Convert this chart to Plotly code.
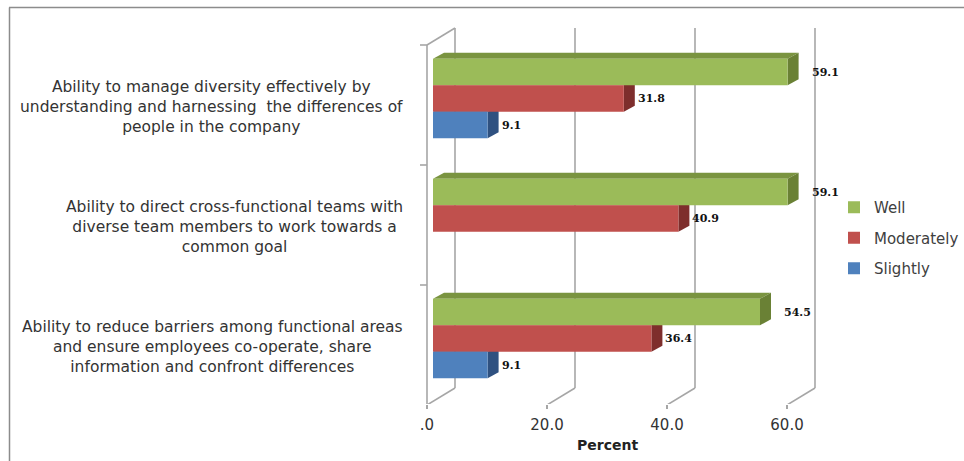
import plotly.graph_objects as go

# ---- data -------------------------------------------------------------
categories = [
    "Ability to manage diversity effectively by<br>understanding and harnessing  the differences of<br>people in the company",
    "Ability to direct cross-functional teams with<br>diverse team members to work towards a<br>common goal",
    "Ability to reduce barriers among functional areas<br>and ensure employees co-operate, share<br>information and confront differences",
]
series_names = ["Well", "Moderately", "Slightly"]
well = [59.1, 59.1, 54.5]
moderately = [31.8, 40.9, 36.4]
slightly = [9.1, None, 9.1]
x_ticks = [0, 20, 40, 60]
x_tick_labels = [".0", "20.0", "40.0", "60.0"]
x_title = "Percent"

series_values = [well, moderately, slightly]

# ---- styling ----------------------------------------------------------
front_colors = ["#9BBB59", "#C0504D", "#4F81BD"]
top_colors = ["#7A9440", "#963C3A", "#3B6291"]
side_colors = ["#6A8135", "#7E2E2C", "#2F5180"]
label_shift_px = [22, 12, 12]
grid_color = "#A6A6A6"
text_color = "#333333"
font_family = "DejaVu Sans"

W, H = 964, 461
ML, MR, MT, MB = 419, 114, 20, 57
PW, PH = W - ML - MR, H - MT - MB

XU = 6.0     # pixels per percent point
YU = 120.0   # pixels per category band
BW = 26.5 / YU  # bar thickness in category units

# bar plane: 0 % at pixel 433, first category centre at pixel 98.5
x_range = [-(433 - ML) / XU, -(433 - ML) / XU + PW / XU]
y_range = [(H - MB - 98.5) / YU, (MT - 98.5) / YU]  # reversed

def dx(px):
    return px / XU

def dy(px):
    return px / YU

# projection offsets (pixels) relative to the bar plane
FRONT = (-6.0, 6.5)
DEPTH = (28.0, -17.0)
FACE = (11.0, -6.0)

def front_pt(t, c):
    return t + dx(FRONT[0]), c + dy(FRONT[1])

def back_pt(t, c):
    return t + dx(FRONT[0] + DEPTH[0]), c + dy(FRONT[1] + DEPTH[1])

def paper_x(px):
    return (px - ML) / PW

def paper_y(py):
    return 1 - (py - MT) / PH

shapes = []

def line(p0, p1, ref="data"):
    d = dict(type="line", x0=p0[0], y0=p0[1], x1=p1[0], y1=p1[1],
             line=dict(color=grid_color, width=1.6), layer="below")
    if ref == "data":
        d.update(xref="x", yref="y")
    else:
        d.update(xref="paper", yref="paper", line=dict(color="#8C8C8C", width=1.5))
    shapes.append(d)

c_top, c_bot = -0.5, len(categories) - 0.5

# back wall gridlines and floor diagonals
for t in x_ticks:
    line(back_pt(t, c_top), back_pt(t, c_bot))
    line(front_pt(t, c_bot), back_pt(t, c_bot))
line(front_pt(0, c_top), back_pt(0, c_top))

# front vertical axis with category tick marks
line(front_pt(0, c_top), front_pt(0, c_bot))
for k in range(len(categories) + 1):
    c = c_top + k
    x0, y0 = front_pt(0, c)
    line((x0 - dx(7), y0), (x0, y0))

# front floor line
fx0, fy0 = front_pt(0, c_bot)
fx1, _ = front_pt(x_ticks[-1], c_bot)
line((fx0 - dx(7), fy0), (fx1, fy0))

# chart frame
line((paper_x(9), paper_y(7.5)), (paper_x(W + 5), paper_y(7.5)), ref="paper")
line((paper_x(9.5), paper_y(7.5)), (paper_x(9.5), paper_y(H + 5)), ref="paper")

# ---- bars with 3D faces ------------------------------------------------
fig = go.Figure()
annotations = []
ypos = list(range(len(categories)))

for i, (name, vals) in enumerate(zip(series_names, series_values)):
    off = -1.5 * BW + i * BW
    fig.add_trace(go.Bar(
        orientation="h", x=vals, y=ypos, name=name,
        width=BW, offset=off,
        marker=dict(color=front_colors[i], line=dict(width=0)),
        legendgroup=name, hoverinfo="x+name",
    ))
    for j, v in enumerate(vals):
        if v is None:
            continue
        yt = j + off
        yb = yt + BW
        fx, fy = dx(FACE[0]), dy(FACE[1])
        shapes.append(dict(
            type="path", xref="x", yref="y", layer="below",
            path=f"M 0,{yt} L {v},{yt} L {v + fx},{yt + fy} L {fx},{yt + fy} Z",
            fillcolor=top_colors[i], line=dict(width=0)))
        shapes.append(dict(
            type="path", xref="x", yref="y", layer="below",
            path=f"M {v},{yt} L {v + fx},{yt + fy} L {v + fx},{yb + fy} L {v},{yb} Z",
            fillcolor=side_colors[i], line=dict(width=0)))
        annotations.append(dict(
            x=v, y=(yt + yb) / 2, xref="x", yref="y",
            text=f"{v:.1f}", showarrow=False, xanchor="left", yanchor="middle",
            xshift=label_shift_px[i],
            font=dict(family="DejaVu Serif", size=11, color="#111111", weight="bold")))

# category labels
for j, text in enumerate(categories):
    _, cy = front_pt(0, j)
    annotations.append(dict(
        x=paper_x(405), y=cy, xref="paper", yref="y", text=text, yshift=-2,
        showarrow=False, xanchor="right", yanchor="middle", align="center",
        font=dict(family=font_family, size=15.5, color=text_color)))

# axis title
tx, _ = front_pt((x_ticks[0] + x_ticks[-1]) / 2, c_bot)
annotations.append(dict(
    x=tx, y=0, xref="x", yref="paper", yshift=-41, text=f"<b>{x_title}</b>",
    showarrow=False, xanchor="center", yanchor="middle",
    font=dict(family=font_family, size=14, color="#222222")))

fig.update_layout(
    width=W, height=H, autosize=False,
    margin=dict(l=ML, r=MR, t=MT, b=MB, pad=0, autoexpand=False),
    paper_bgcolor="white", plot_bgcolor="white",
    barmode="overlay",
    showlegend=True,
    legend=dict(
        x=paper_x(834), y=paper_y(191), xanchor="left", yanchor="top",
        traceorder="grouped", tracegroupgap=8,
        font=dict(family=font_family, size=15, color="#404040"),
        bgcolor="rgba(0,0,0,0)", itemclick=False, itemdoubleclick=False),
    xaxis=dict(
        range=x_range, showgrid=False, zeroline=False, showline=False,
        tickvals=[front_pt(t, c_bot)[0] for t in x_ticks], ticktext=x_tick_labels,
        ticks="outside", ticklen=4, tickwidth=1.6, tickcolor=grid_color,
        ticklabelstandoff=3,
        tickfont=dict(family=font_family, size=15, color=text_color)),
    yaxis=dict(
        range=y_range, showgrid=False, zeroline=False, showline=False,
        showticklabels=False, ticks=""),
    shapes=shapes,
    annotations=annotations,
)

fig.write_html("out.html")
